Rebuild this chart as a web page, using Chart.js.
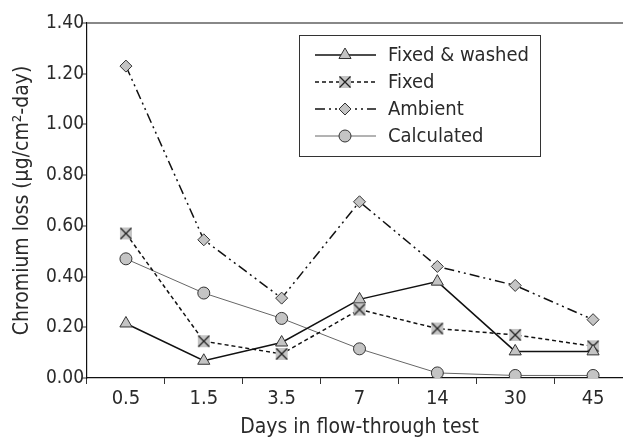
<!DOCTYPE html>
<html>
<head>
<meta charset="utf-8">
<script src="https://cdn.jsdelivr.net/npm/chart.js@4/dist/chart.umd.min.js"></script>
<style>
  html, body { margin: 0; padding: 0; background: #fff; overflow: hidden; }
  #wrap { width: 640px; height: 442px; position: relative; }
</style>
</head>
<body>
<div id="wrap"><canvas id="chart"></canvas></div>
<script>
const days = ["0.5", "1.5", "3.5", "7", "14", "30", "45"];
const fixedWashed = [0.215, 0.068, 0.14, 0.31, 0.38, 0.105, 0.105];
const fixed = [0.57, 0.145, 0.095, 0.27, 0.195, 0.17, 0.125];
const ambient = [1.23, 0.545, 0.315, 0.695, 0.44, 0.365, 0.23];
const calculated = [0.47, 0.335, 0.235, 0.115, 0.02, 0.01, 0.01];
const seriesNames = ["Fixed & washed", "Fixed", "Ambient", "Calculated"];

const FONT = "'Liberation Sans Narrow', 'DejaVu Sans Condensed', 'Roboto', sans-serif";
const textColor = "#2a2a2a";
const markFill = "#c4c4c4";
const markEdge = "#333";

// gray square with an X on it, used for "Fixed"
function makeCross() {
    const c = document.createElement("canvas");
    c.width = 14; c.height = 14;
    const g = c.getContext("2d");
    g.fillStyle = markFill;
    g.fillRect(1, 1, 12, 12);
    g.strokeStyle = "#222";
    g.lineWidth = 1.3;
    g.beginPath();
    g.moveTo(1.5, 1.5); g.lineTo(12.5, 12.5);
    g.moveTo(12.5, 1.5); g.lineTo(1.5, 12.5);
    g.stroke();
    return c;
}
const crossMark = makeCross();

const legendBox = {
    id: "legendBox",
    afterDraw(chart) {
        const ctx = chart.ctx;
        ctx.save();
        ctx.strokeStyle = "#333";
        ctx.lineWidth = 1;
        ctx.strokeRect(299.5, 35.5, 241, 121);
        const rows = [55, 82, 109, 136];
        chart.data.datasets.forEach((ds, i) => {
            const y = rows[i];
            ctx.beginPath();
            ctx.setLineDash(ds.borderDash || []);
            ctx.strokeStyle = ds.borderColor;
            ctx.lineWidth = ds.borderWidth;
            ctx.moveTo(315, y);
            ctx.lineTo(376, y);
            ctx.stroke();
            ctx.setLineDash([]);
            ctx.fillStyle = ds.pointBackgroundColor;
            ctx.strokeStyle = ds.pointBorderColor;
            ctx.lineWidth = 1;
            Chart.helpers.drawPoint(ctx, {
                pointStyle: ds.pointStyle,
                radius: ds.pointRadius,
                borderWidth: 1,
                rotation: 0
            }, 345, y);
            ctx.fillStyle = textColor;
            ctx.font = "20px " + FONT;
            ctx.textBaseline = "middle";
            ctx.textAlign = "left";
            ctx.fillText(ds.label, 388, y + 1);
        });
        ctx.restore();
    }
};

function series(label, data, opts) {
    return Object.assign({
        label: label,
        data: data,
        borderColor: "#111",
        borderWidth: 1.5,
        pointBackgroundColor: markFill,
        pointBorderColor: markEdge,
        pointBorderWidth: 1,
        pointRadius: 6,
        tension: 0,
        fill: false
    }, opts);
}

new Chart(document.getElementById("chart"), {
    type: "line",
    data: {
        labels: days,
        datasets: [
            series(seriesNames[0], fixedWashed, { pointStyle: "triangle", pointRadius: 7 }),
            series(seriesNames[1], fixed, { pointStyle: crossMark, borderDash: [4, 3] }),
            series(seriesNames[2], ambient, { pointStyle: "rectRot", pointRadius: 6, borderDash: [10, 4, 2, 4, 2, 4] }),
            series(seriesNames[3], calculated, { pointStyle: "circle", borderColor: "#666", borderWidth: 1, pointRadius: 6 })
        ]
    },
    options: {
        responsive: true,
        maintainAspectRatio: false,
        animation: false,
        layout: { padding: { top: 23, right: 8, left: 0, bottom: 0 } },
        plugins: {
            legend: { display: false },
            tooltip: { enabled: false }
        },
        scales: {
            x: {
                offset: true,
                afterFit: s => { s.height = 64; },
                grid: {
                    offset: true,
                    drawOnChartArea: false,
                    tickLength: 6,
                    tickColor: "#333"
                },
                border: { color: "#111", width: 1.2 },
                ticks: {
                    color: textColor,
                    font: { family: FONT, size: 20 },
                    padding: 3
                },
                title: {
                    display: true,
                    text: "Days in flow-through test",
                    color: textColor,
                    font: { family: FONT, size: 21 },
                    padding: { top: 0, bottom: 2 }
                }
            },
            y: {
                min: 0,
                max: 1.4,
                afterFit: s => { s.width = 87; },
                grid: {
                    color: c => (c.tick && c.tick.value >= 1.39 ? "#888" : "rgba(0,0,0,0)"),
                    lineWidth: 2,
                    tickLength: 5,
                    tickColor: "#333",
                    tickWidth: 1
                },
                border: { color: "#111", width: 1.2 },
                ticks: {
                    stepSize: 0.2,
                    color: textColor,
                    font: { family: FONT, size: 19 },
                    padding: -2,
                    callback: v => Number(v).toFixed(2)
                },
                title: {
                    display: true,
                    text: "Chromium loss (µg/cm²-day)",
                    color: textColor,
                    font: { family: FONT, size: 21 },
                    padding: { top: 10, bottom: 0 }
                }
            }
        }
    },
    plugins: [legendBox]
});
</script>
</body>
</html>
